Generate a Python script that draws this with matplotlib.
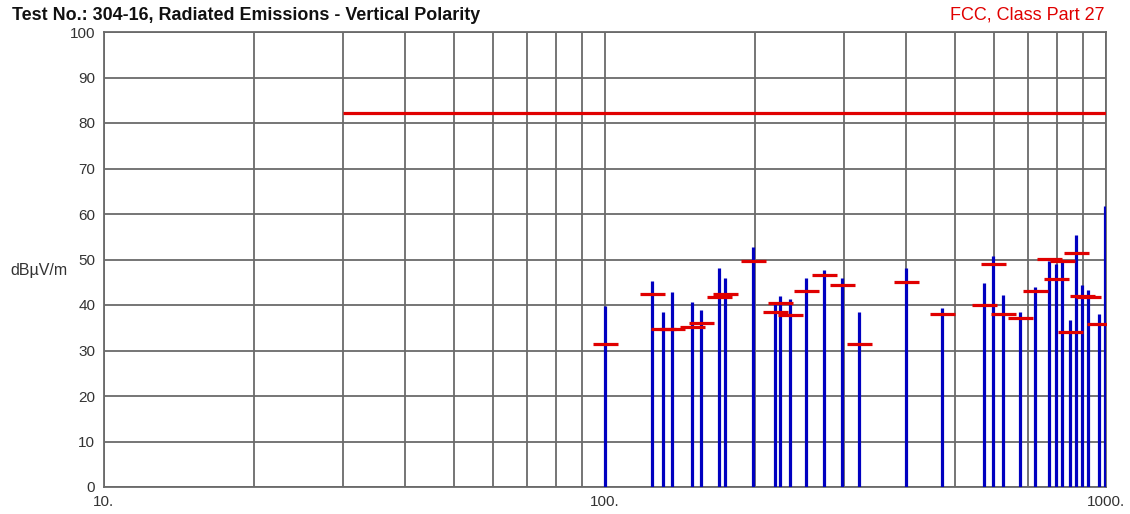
import matplotlib
matplotlib.use("Agg")
import matplotlib.pyplot as plt
import numpy as np

# Emission frequencies (MHz)
freqs = [100.0, 124.6, 130.9, 136.3, 149.5, 155.8, 169.3, 174.0, 198.2, 219.3,
         223.8, 234.9, 252.1, 274.3, 298.0, 321.8, 399.8, 472.4, 573.1, 597.3,
         623.6, 674.2, 723.3, 770.0, 796.3, 819.7, 849.2, 873.1, 897.5, 923.9,
         970.7, 996.3]
# Peak levels (blue stems), dBuV/m
peaks = [39.8, 45.3, 38.4, 42.8, 40.7, 39.0, 48.1, 46.0, 52.7, 40.4,
         42.0, 41.4, 46.0, 47.7, 46.0, 38.4, 48.1, 39.3, 44.8, 50.8,
         42.1, 38.4, 44.0, 49.7, 49.0, 49.7, 36.7, 55.4, 44.4, 43.4,
         38.0, 61.8]
# Measured levels (red dashes), dBuV/m; NaN = none
levels = [31.4, 42.4, 34.7, 34.7, 35.1, 36.0, 41.8, 42.4, 49.7, 38.5,
          40.5, 37.8, 43.1, 46.5, 44.5, 31.4, 45.1, 38.1, 40.1, 49.1,
          38.0, 37.1, 43.1, 50.1, 45.7, 49.7, 34.1, 51.5, 42.0, 41.8,
          35.8, np.nan]
# Limit line
limit_start, limit_stop, limit_level = 30, 1000, 82.2

y_ticks = [0, 10, 20, 30, 40, 50, 60, 70, 80, 90, 100]
x_ticks = [10, 100, 1000]
x_ticklabels = ["10.", "100.", "1000."]

W, H = 1130, 514
fig = plt.figure(figsize=(W / 100, H / 100), dpi=100)
ax = fig.add_axes([103.5 / W, (514 - 487) / H, (1105.5 - 103.5) / W, (487 - 32) / H])

ax.set_xscale("log")
ax.set_xlim(10, 1000)
ax.set_ylim(0, 100)

grid_c = "#6a6a6a"
ax.set_xticks(x_ticks)
ax.set_xticklabels(x_ticklabels)
ax.set_xticks([v * d for d in (10, 100) for v in range(2, 10)], minor=True)
ax.set_xticklabels([], minor=True)
ax.set_yticks(y_ticks)
ax.grid(True, which="both", axis="x", color=grid_c, lw=1.3)
ax.grid(True, which="major", axis="y", color=grid_c, lw=1.3)
ax.set_axisbelow(True)
for s in ax.spines.values():
    s.set_color(grid_c)
    s.set_linewidth(1.3)
ax.tick_params(axis="both", which="both", length=0, labelsize=11,
               labelcolor="#333333")
ax.tick_params(axis="x", pad=6)
ax.tick_params(axis="y", pad=6)
for t in ax.get_xticklabels() + ax.get_yticklabels():
    t.set_fontfamily("Liberation Sans")

ax.vlines(freqs, 0, peaks, color="#0000c0", lw=2.3, zorder=3)
ax.plot(freqs, levels, linestyle="none", marker="_", ms=18, mew=2.3,
        color="#e00000", zorder=4)
ax.hlines(limit_level, limit_start, limit_stop, color="#e00000", lw=2.3, zorder=4)

fig.text(12 / W, 1 - 15 / H, "Test No.: 304-16, Radiated Emissions - Vertical Polarity",
         fontsize=12.9, fontweight="bold", family="Liberation Sans",
         va="center", ha="left", color="#111111")
fig.text(1105 / W, 1 - 15 / H, "FCC, Class Part 27", fontsize=13,
         family="Liberation Sans", va="center", ha="right", color="#e00000")
fig.text(10 / W, 1 - 270 / H, "dBµV/m", fontsize=11.5, family="Liberation Sans",
         va="center", ha="left", color="#333333")

fig.savefig("out.png", dpi=100)
